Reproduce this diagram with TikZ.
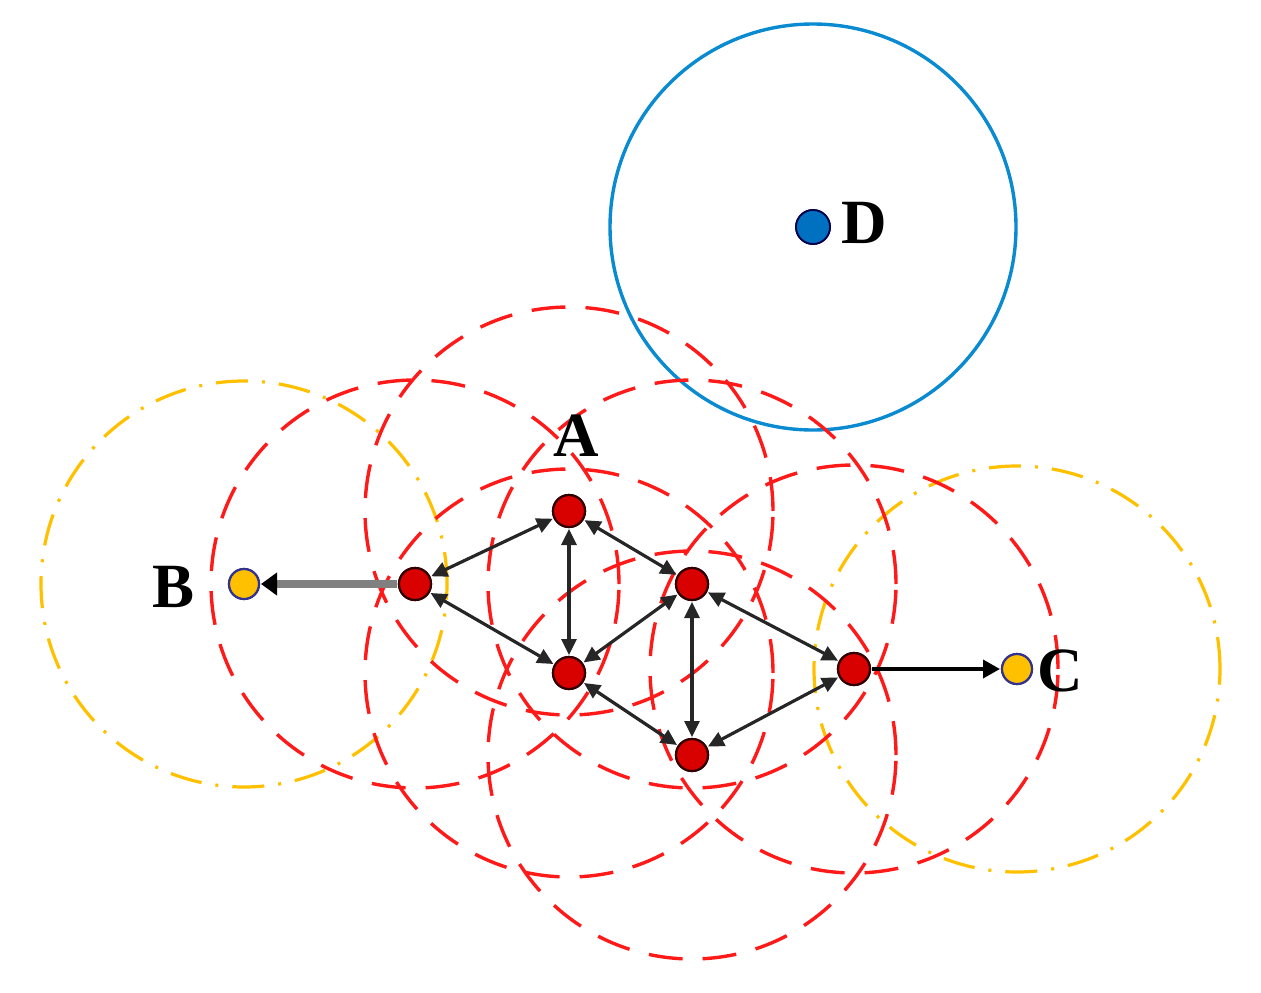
\documentclass[tikz,border=0pt]{standalone}
\usepackage{fontspec}
\setmainfont{Liberation Serif}
\usetikzlibrary{arrows.meta}
\definecolor{redc}{HTML}{FF1A1A}
\definecolor{yelc}{HTML}{FFC000}
\definecolor{bluc}{HTML}{0A8AD0}
\definecolor{rednode}{HTML}{D90000}
\definecolor{dnode}{HTML}{0070C0}
\tikzset{
  redring/.style={draw=redc,line width=3.4pt,dash pattern=on 34pt off 20pt},
  yelring/.style={draw=yelc,line width=3.2pt,dash pattern=on 32pt off 14pt on 3pt off 14pt},
  bluring/.style={draw=bluc,line width=3.4pt},
  rnode/.style={circle,fill=rednode,draw=black!80!red,line width=2.2pt,minimum size=32pt,inner sep=0pt,outer sep=2pt},
  ynode/.style={circle,fill=yelc,draw=black!40!blue!60!gray,line width=2.2pt,minimum size=30pt,inner sep=0pt,outer sep=2pt},
  bnode/.style={circle,fill=dnode,draw=black!70!blue,line width=1.8pt,minimum size=34pt,inner sep=0pt},
  lbl/.style={font=\fontsize{63}{63}\selectfont\bfseries,inner sep=0pt},
  link/.style={draw=black!85,line width=3.2pt,{Triangle[length=16pt,width=15pt]}-{Triangle[length=16pt,width=15pt]}},
  outlink/.style={draw=black,line width=3.6pt,-{Triangle[length=17pt,width=18pt]}},
  graylink/.style={draw=gray,line width=8pt,-{Triangle[length=16pt,width=22pt,color=black]}}
}
\begin{document}
\begin{tikzpicture}[x=1pt,y=-1pt]
\useasboundingbox (0,0) rectangle (1261,993);
% nodes
\node[rnode] (r1) at (415,584) {};
\node[rnode] (r2) at (569,511) {};
\node[rnode] (r3) at (692,584) {};
\node[rnode] (r4) at (569,673) {};
\node[rnode] (r5) at (692,755) {};
\node[rnode] (r6) at (854,669) {};
\node[ynode] (b) at (244,584) {};
\node[ynode] (c) at (1017,669) {};
\node[bnode] (d) at (813,227) {};
% rings
\draw[yelring] (b.center) circle[radius=203pt];
\draw[yelring] (c.center) circle[radius=203pt];
\draw[bluring] (d.center) circle[radius=203pt];
\foreach \n in {r1,r2,r3,r4,r5,r6}{\draw[redring] (\n.center) circle[radius=204pt];}
% links
\draw[link] (r1) -- (r2);
\draw[link] (r1) -- (r4);
\draw[link] (r2) -- (r4);
\draw[link] (r2) -- (r3);
\draw[link] (r4) -- (r3);
\draw[link] (r4) -- (r5);
\draw[link] (r3) -- (r5);
\draw[link] (r3) -- (r6);
\draw[link] (r5) -- (r6);
\draw[graylink] (r1) -- (b);
\draw[outlink] (r6) -- (c);
% redraw nodes on top
\foreach \n/\p in {r1/{415,584},r2/{569,511},r3/{692,584},r4/{569,673},r5/{692,755},r6/{854,669}}{\node[rnode] at (\p) {};}
\node[ynode] at (244,584) {};
\node[ynode] at (1017,669) {};
\node[bnode] at (813,227) {};
% labels
\node[lbl] (la) at (576,436) {A};
\node[lbl] (lb) at (174,587) {B};
\node[lbl] (lc) at (1060,671) {C};
\node[lbl] (ld) at (864,223) {D};
\end{tikzpicture}
\end{document}
